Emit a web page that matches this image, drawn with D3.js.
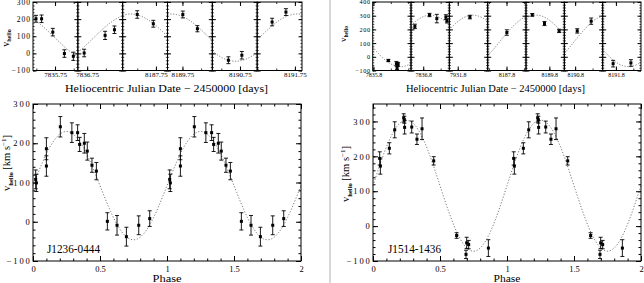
<!DOCTYPE html>
<html>
<head>
<meta charset="utf-8">
<script src="https://cdn.jsdelivr.net/npm/d3@7"></script>
<style>
body { margin: 0; background: #fff; }
svg { display: block; }
text { font-family: "Liberation Serif", "DejaVu Serif", serif; fill: #000; }
</style>
</head>
<body>
<div id="canvas"></div>
<script>
'use strict';

var width = 644;
var height = 283;

// ---- J1236-0444 (left) ----
var leftPhase = [0.02, 0.025, 0.10, 0.10, 0.204, 0.29, 0.333, 0.348, 0.383, 0.405, 0.44, 0.473, 0.555, 0.627, 0.697, 0.789, 0.871];
var leftVel   = [108, 99, 186, 142, 242, 227, 227, 197, 200, 180, 144, 129, 1, -9, -38, -9, 8];
var leftErr   = [24, 22, 28, 26, 26, 25, 20, 18, 25, 23, 18, 22, 22, 25, 24, 24, 20];

var leftHjd    = [7835.699, 7835.714, 7835.744, 7835.775, 7835.799, 7836.742, 7836.798, 7836.823,
                  8187.700, 8187.743, 8189.751, 8189.790, 8190.719, 8190.755, 8191.689, 8191.726];
var leftHjdVel = [202, 202, 124, -1, -17, 2, 105, 138, 227, 173, 227, 144, -40, -11, 183, 241];
var leftHjdErr = [20, 22, 22, 22, 24, 22, 24, 22, 22, 20, 20, 18, 20, 22, 22, 20];

var leftWindows = [[7835.691, 7835.811], [7836.725, 7836.845], [8187.661, 8187.781],
                   [8189.710, 8189.830], [8190.676, 8190.796], [8191.649, 8191.769]];
var leftDateTicks  = [7835.75, 7836.75, 8187.75, 8189.75, 8190.75, 8191.75];
var leftDateLabels = ["7835.75", "7836.75", "8187.75", "8189.75", "8190.75", "8191.75"];

var leftGamma = 92;
var leftK = 138;
var leftPeriod = 0.407448;
var leftT0 = 7835.54562;

// ---- J1514-1436 (right) ----
var rightPhase = [0.05, 0.055, 0.122, 0.162, 0.229, 0.234, 0.236, 0.289, 0.328, 0.366, 0.453, 0.624, 0.694, 0.699, 0.714, 0.861];
var rightVel   = [194, 172, 223, 276, 310, 305, 283, 284, 249, 279, 187, -27, -81, -48, -53, -63];
var rightErr   = [19, 23, 16, 23, 12, 10, 19, 17, 15, 31, 12, 8, 12, 16, 12, 24];

var rightHjd    = [7835.843, 7835.866, 7835.868, 7835.871, 7836.776, 7836.818, 7836.839, 7836.865, 7836.868,
                   7931.835, 8187.801, 8189.751, 8189.786, 8189.828, 8190.806, 8190.846, 8191.792, 8191.843];
var rightHjdVel = [-27, -50, -81, -55, 222, 305, 279, 290, 262, 290, 177, 306, 243, 189, 189, 260, -50, -45];
var rightHjdErr = [8, 16, 12, 14, 16, 12, 31, 17, 15, 13, 20, 10, 15, 12, 16, 23, 24, 24];

var rightWindows = [[7835.798, 7835.908], [7836.765, 7836.875], [7931.776, 7931.886], [8187.746, 8187.856],
                    [8189.733, 8189.843], [8190.769, 8190.879], [8191.762, 8191.872]];
var rightDateTicks  = [7835.8, 7836.8, 7931.8, 8187.8, 8189.8, 8190.8, 8191.8];
var rightDateLabels = ["7835.8", "7836.8", "7931.8", "8187.8", "8189.8", "8190.8", "8191.8"];

var rightGamma = 116;
var rightK = 188;
var rightPeriod = 0.377074;
var rightT0 = 7835.5953;

// axis ticks
var phaseTicks = [0, 0.5, 1, 1.5, 2];
var leftStripTicks = [-100, 0, 100, 200, 300];
var rightStripTicks = [-100, 0, 100, 200, 300, 400];
var velTicks = [-100, 0, 100, 200, 300];


var svg = d3.select('#canvas')
            .append('svg')
            .attr('width', width)
            .attr('height', height);

// grey divider between the two figures
svg.append('line')
    .attr('x1', 330).attr('x2', 330)
    .attr('y1', 0).attr('y2', height)
    .style('stroke', '#d8d8d8')
    .style('stroke-width', 2);

function fold(t, T0, P){
    var p = (t - T0) / P;
    return p - Math.floor(p);
}

function tidy(g, size, lw){
    g.select('.domain').remove();
    g.attr('font-family', '"Liberation Serif", serif').attr('font-size', size);
    g.selectAll('line').style('stroke', '#000').style('stroke-width', lw || 1);
    return g;
}

function errorBars(g, xs, ys, es, x, y){
    var idx = d3.range(xs.length);
    g.selectAll(null).data(idx).enter().append('line')
        .attr('x1', function(i){ return x(xs[i]); })
        .attr('x2', function(i){ return x(xs[i]); })
        .attr('y1', function(i){ return y(ys[i] - es[i]); })
        .attr('y2', function(i){ return y(ys[i] + es[i]); })
        .style('stroke', '#000').style('stroke-width', 0.9);
    [-1, 1].forEach(function(s){
        g.selectAll(null).data(idx).enter().append('line')
            .attr('x1', function(i){ return x(xs[i]) - 2; })
            .attr('x2', function(i){ return x(xs[i]) + 2; })
            .attr('y1', function(i){ return y(ys[i] + s * es[i]); })
            .attr('y2', function(i){ return y(ys[i] + s * es[i]); })
            .style('stroke', '#000').style('stroke-width', 0.9);
    });
    g.selectAll(null).data(idx).enter().append('rect')
        .attr('x', function(i){ return x(xs[i]) - 1.5; })
        .attr('y', function(i){ return y(ys[i]) - 1.5; })
        .attr('width', 3).attr('height', 3)
        .style('fill', '#000');
}

function drawStrip(o){
    var top = 2, bottom = 70.5;
    var n = o.windows.length;
    var pw = (o.right - o.left) / n;
    var y = d3.scaleLinear().domain([o.yTicks[0], o.yTicks[o.yTicks.length - 1]]).range([bottom, top]);
    var yMinor = d3.range(o.yTicks[0], o.yTicks[o.yTicks.length - 1] + 1, 20);

    o.windows.forEach(function(w, i){
        var x0 = o.left + i * pw;
        var x = d3.scaleLinear().domain(w).range([x0, x0 + pw]);
        var g = svg.append('g');

        var minor = d3.range(Math.ceil(w[0] / 0.05 - 1e-6), Math.floor(w[1] / 0.05 + 1e-6) + 1)
                      .map(function(k){ return k * 0.05; });

        tidy(g.append('g').attr('transform', 'translate(0,' + bottom + ')')
            .call(d3.axisBottom(x).tickValues(minor).tickSize(-2).tickFormat('')), o.xFont, 0.8);
        tidy(g.append('g').attr('transform', 'translate(0,' + bottom + ')')
            .call(d3.axisBottom(x).tickValues([o.ticks[i]]).tickSize(-4).tickPadding(2)
                  .tickFormat(function(){ return o.labels[i]; })), o.xFont);
        tidy(g.append('g').attr('transform', 'translate(0,' + top + ')')
            .call(d3.axisTop(x).tickValues(minor).tickSize(-2).tickFormat('')), o.xFont, 0.8);
        tidy(g.append('g').attr('transform', 'translate(0,' + top + ')')
            .call(d3.axisTop(x).tickValues([o.ticks[i]]).tickSize(-4).tickFormat('')), o.xFont);

        tidy(g.append('g').attr('transform', 'translate(' + x0 + ',0)')
            .call(d3.axisLeft(y).tickValues(yMinor).tickSize(-1.6).tickFormat('')), o.yFont, 0.7);
        tidy(g.append('g').attr('transform', 'translate(' + x0 + ',0)')
            .call(d3.axisLeft(y).tickValues(o.yTicks).tickSize(-3.5).tickPadding(2)
                  .tickFormat(i === 0 ? d3.format('') : '')), o.yFont)
            .selectAll('text').style('letter-spacing', o.ySpacing + 'px');
        tidy(g.append('g').attr('transform', 'translate(' + (x0 + pw) + ',0)')
            .call(d3.axisRight(y).tickValues(yMinor).tickSize(-1.6).tickFormat('')), o.yFont, 0.7);
        tidy(g.append('g').attr('transform', 'translate(' + (x0 + pw) + ',0)')
            .call(d3.axisRight(y).tickValues(o.yTicks).tickSize(-3.5).tickFormat('')), o.yFont);

        // fitted orbit, evaluated in time
        var ts = d3.range(0, 81).map(function(k){ return w[0] + (w[1] - w[0]) * k / 80; });
        var line = d3.line()
            .x(function(t){ return x(t); })
            .y(function(t){ return y(o.gamma + o.K * Math.sin(2 * Math.PI * fold(t, o.T0, o.P))); });
        g.append('path').datum(ts).attr('d', line)
            .style('fill', 'none').style('stroke', '#777')
            .style('stroke-width', 1).style('stroke-dasharray', '1.2,1.6');

        var inside = d3.range(o.hjd.length).filter(function(k){
            return o.hjd[k] >= w[0] && o.hjd[k] <= w[1];
        });
        errorBars(g,
            inside.map(function(k){ return o.hjd[k]; }),
            inside.map(function(k){ return o.vel[k]; }),
            inside.map(function(k){ return o.err[k]; }), x, y);

        g.append('rect')
            .attr('x', x0).attr('y', top)
            .attr('width', pw).attr('height', bottom - top)
            .style('fill', 'none').style('stroke', '#000').style('stroke-width', 1);
    });

    svg.append('text')
        .attr('x', o.titleX).attr('y', 92)
        .attr('text-anchor', 'middle')
        .attr('font-size', o.titleSize)
        .attr('textLength', o.titleLen).attr('lengthAdjust', 'spacingAndGlyphs')
        .text('Heliocentric Julian Date \u2212 2450000 [days]');

    var yl = svg.append('text')
        .attr('transform', 'translate(' + o.yLabelX + ',' + o.yLabelY + ') rotate(-90)')
        .attr('text-anchor', 'middle')
        .attr('font-size', o.yLabelSize);
    yl.append('tspan').text('v');
    yl.append('tspan').attr('dy', 2).attr('font-size', o.yLabelSize * 0.62).attr('font-weight', 'bold').text('helio');
}

function drawPhase(o){
    var top = 104, bottom = 261;
    var x = d3.scaleLinear().domain([0, 2]).range([o.left, o.right]);
    var y = d3.scaleLinear().domain(o.yDomain).range([bottom, top]);
    var xMinor = d3.range(0, 2.001, 0.1);
    var yMinor = d3.range(-100, o.yDomain[1] + 0.1, 20);
    var g = svg.append('g');

    tidy(g.append('g').attr('transform', 'translate(0,' + bottom + ')')
        .call(d3.axisBottom(x).tickValues(xMinor).tickSize(-2.5).tickFormat('')), 8);
    tidy(g.append('g').attr('transform', 'translate(0,' + bottom + ')')
        .call(d3.axisBottom(x).tickValues(phaseTicks).tickSize(-5).tickPadding(5).tickFormat(d3.format(''))), 8.5);
    tidy(g.append('g').attr('transform', 'translate(0,' + top + ')')
        .call(d3.axisTop(x).tickValues(xMinor).tickSize(-2.5).tickFormat('')), 8);
    tidy(g.append('g').attr('transform', 'translate(0,' + top + ')')
        .call(d3.axisTop(x).tickValues(phaseTicks).tickSize(-5).tickFormat('')), 8);

    tidy(g.append('g').attr('transform', 'translate(' + o.left + ',0)')
        .call(d3.axisLeft(y).tickValues(yMinor).tickSize(-2.5).tickFormat('')), 8);
    tidy(g.append('g').attr('transform', 'translate(' + o.left + ',0)')
        .call(d3.axisLeft(y).tickValues(velTicks).tickSize(-5).tickPadding(1.5).tickFormat(d3.format(''))), 8.5)
        .selectAll('text').style('letter-spacing', '1.8px');
    tidy(g.append('g').attr('transform', 'translate(' + o.right + ',0)')
        .call(d3.axisRight(y).tickValues(yMinor).tickSize(-2.5).tickFormat('')), 8);
    tidy(g.append('g').attr('transform', 'translate(' + o.right + ',0)')
        .call(d3.axisRight(y).tickValues(velTicks).tickSize(-5).tickFormat('')), 8);

    var ps = d3.range(0, 201).map(function(k){ return k / 100; });
    var line = d3.line()
        .x(function(p){ return x(p); })
        .y(function(p){ return y(o.gamma + o.K * Math.sin(2 * Math.PI * p)); });
    g.append('path').datum(ps).attr('d', line)
        .style('fill', 'none').style('stroke', '#777')
        .style('stroke-width', 1).style('stroke-dasharray', '1.2,1.8');

    // each measurement shown twice, at phase and phase + 1
    var px = o.phase.concat(o.phase.map(function(p){ return p + 1; }));
    errorBars(g, px, o.vel.concat(o.vel), o.err.concat(o.err), x, y);

    g.append('rect')
        .attr('x', o.left).attr('y', top)
        .attr('width', o.right - o.left).attr('height', bottom - top)
        .style('fill', 'none').style('stroke', '#000').style('stroke-width', 1);

    svg.append('text')
        .attr('x', x(1)).attr('y', 282)
        .attr('text-anchor', 'middle')
        .attr('font-size', 10.5)
        .attr('textLength', o.phaseLen).attr('lengthAdjust', 'spacingAndGlyphs')
        .text('Phase');

    svg.append('text')
        .attr('x', o.nameX).attr('y', 253)
        .attr('font-size', 12)
        .attr('textLength', 53).attr('lengthAdjust', 'spacingAndGlyphs')
        .text(o.name);

    var yl = svg.append('text')
        .attr('transform', 'translate(' + o.yLabelX + ',' + o.yLabelY + ') rotate(-90)')
        .attr('text-anchor', 'middle')
        .attr('font-size', 10.5);
    yl.append('tspan').text('v');
    yl.append('tspan').attr('dy', 2.5).attr('font-size', 6.5).attr('font-weight', 'bold').text('helio');
    yl.append('tspan').attr('dy', -2.5).text(' [km s');
    yl.append('tspan').attr('dy', -4).attr('font-size', 7).text('\u22121');
    yl.append('tspan').attr('dy', 4).text(']');
}

drawStrip({
    left: 33, right: 302,
    windows: leftWindows, ticks: leftDateTicks, labels: leftDateLabels,
    yTicks: leftStripTicks,
    hjd: leftHjd, vel: leftHjdVel, err: leftHjdErr,
    gamma: leftGamma, K: leftK, P: leftPeriod, T0: leftT0,
    xFont: 7, yFont: 7.5, ySpacing: 1,
    titleX: 166.5, titleSize: 11, titleLen: 203,
    yLabelX: 9, yLabelY: 38, yLabelSize: 10
});

drawStrip({
    left: 372.7, right: 641,
    windows: rightWindows, ticks: rightDateTicks, labels: rightDateLabels,
    yTicks: rightStripTicks,
    hjd: rightHjd, vel: rightHjdVel, err: rightHjdErr,
    gamma: rightGamma, K: rightK, P: rightPeriod, T0: rightT0,
    xFont: 6, yFont: 6.2, ySpacing: 0.6,
    titleX: 495.5, titleSize: 10, titleLen: 179,
    yLabelX: 346, yLabelY: 34, yLabelSize: 9
});

drawPhase({
    left: 33, right: 301, yDomain: [-100, 300],
    phase: leftPhase, vel: leftVel, err: leftErr,
    gamma: leftGamma, K: leftK,
    name: 'J1236-0444', nameX: 47,
    phaseLen: 29, yLabelX: 10, yLabelY: 163
});

drawPhase({
    left: 373, right: 641, yDomain: [-100, 350],
    phase: rightPhase, vel: rightVel, err: rightErr,
    gamma: rightGamma, K: rightK,
    name: 'J1514-1436', nameX: 388,
    phaseLen: 27, yLabelX: 349, yLabelY: 174
});
</script>
</body>
</html>
